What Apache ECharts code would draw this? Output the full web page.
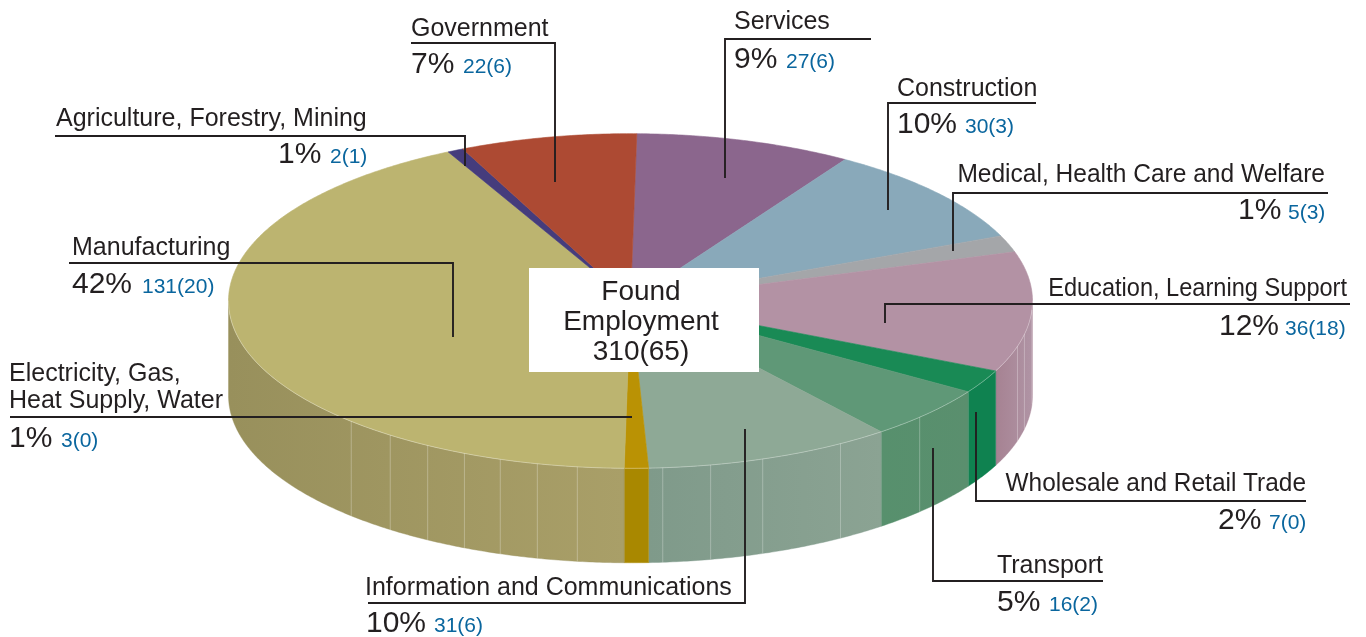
<!DOCTYPE html>
<html lang="en">
<head>
    <meta charset="UTF-8">
    <title>Found Employment</title>
    <script src="https://cdn.jsdelivr.net/npm/echarts@6/dist/echarts.min.js"></script>
    <style>
        html, body { margin: 0; padding: 0; background: #fff; }
        #chart { width: 1366px; height: 637px; }
    </style>
</head>
<body>
<div id="chart"></div>
<script>
    // data, clockwise from 12 o'clock
    const sectorNames = [
        ['Services'], ['Construction'], ['Medical, Health Care and Welfare'],
        ['Education, Learning Support'], ['Wholesale and Retail Trade'], ['Transport'],
        ['Information and Communications'], ['Electricity, Gas,', 'Heat Supply, Water'],
        ['Manufacturing'], ['Agriculture, Forestry, Mining'], ['Government']
    ];
    const sectorCounts = [27, 30, 5, 36, 7, 16, 31, 3, 131, 2, 22];
    const sectorBrackets = [6, 3, 3, 18, 0, 2, 6, 0, 20, 1, 6];
    const sectorPercents = [9, 10, 1, 12, 2, 5, 10, 1, 42, 1, 7];
    const centerLines = ['Found', 'Employment', '310(65)'];

    // colours
    const topColors = ['#8B668D', '#89A9BA', '#A4A6A9', '#B392A4', '#198A55', '#5F9877',
        '#8EA996', '#BA9204', '#BCB470', '#453C7C', '#AD4A33'];
    const wallColors = [null, null, null, ['#A68292', '#B094A5'], ['#0F8250', '#0F8250'],
        ['#57906D', '#5A8F6E'], ['#7F9A8A', '#8BA393'], ['#A98800', '#A98800'],
        ['#98905C', '#A99F68'], null, null];
    const inkColor = '#231F20';
    const blueColor = '#0A669E';
    const fontName = '"Liberation Sans", Arial, sans-serif';

    // pie geometry
    const cx = 630.5, cy = 301, rx = 402, ry = 167.3, depth = 94.5;
    const startAngle = 0.9;
    const facetAngles = [93, 101.5, 105.7, 134, 148.5, 160.8, 168.5, 175.4,
        187.6, 193.4, 198.9, 204.4, 210.3, 216.7, 224];

    // label layout: name x / baseline, percent and bracket row
    const labelLayout = [
        { x: 734, y: 29, align: 'left', rowY: 68, pctX: 734, countX: 786 },
        { x: 897, y: 96, align: 'left', rowY: 133, pctX: 897, countX: 965 },
        { x: 1325, y: 182, align: 'right', squeeze: 0.981, rowY: 219, pctX: 1238, countX: 1288 },
        { x: 1347, y: 296, align: 'right', squeeze: 0.943, rowY: 335, pctX: 1219, countX: 1285 },
        { x: 1306, y: 491, align: 'right', squeeze: 0.977, rowY: 529, pctX: 1218, countX: 1269 },
        { x: 1103, y: 573, align: 'right', rowY: 611, pctX: 997, countX: 1049 },
        { x: 365, y: 595, align: 'left', rowY: 632, pctX: 366, countX: 434 },
        { x: 9, y: 381, align: 'left', rowY: 447, pctX: 9, countX: 61 },
        { x: 72, y: 255, align: 'left', rowY: 293, pctX: 72, countX: 142 },
        { x: 56, y: 126, align: 'left', rowY: 163, pctX: 278, countX: 330 },
        { x: 411, y: 36, align: 'left', rowY: 73, pctX: 411, countX: 463 }
    ];
    const leaderLines = [
        [[871, 39], [725, 39], [725, 178]],
        [[1036, 103], [888, 103], [888, 210]],
        [[1328, 193], [953, 193], [953, 251]],
        [[1350, 304], [885, 304], [885, 323]],
        [[1306, 501], [976, 501], [976, 412]],
        [[1103, 581], [933, 581], [933, 448]],
        [[368, 603], [745, 603], [745, 429]],
        [[10, 417], [632, 417]],
        [[69, 263], [453, 263], [453, 337]],
        [[55, 136], [465, 136], [465, 166]],
        [[411, 43], [555, 43], [555, 182]]
    ];

    const total = sectorCounts.reduce((a, b) => a + b, 0);
    const startAngles = [];
    sectorCounts.reduce((sum, v, i) => { startAngles[i] = startAngle + sum / total * 360; return sum + v; }, 0);

    function rim(deg, dy) {
        const t = deg * Math.PI / 180;
        return [cx + rx * Math.sin(t), cy - ry * Math.cos(t) + (dy || 0)];
    }

    function arc(from, to, dy) {
        const pts = [];
        const n = Math.max(2, Math.ceil(Math.abs(to - from) * 2));
        for (let k = 0; k <= n; k++) pts.push(rim(from + (to - from) * k / n, dy));
        return pts;
    }

    function renderSlice(params, api) {
        const i = params.dataIndex;
        const a0 = startAngles[i];
        const a1 = a0 + api.value(0) / total * 360;
        const children = [{
            type: 'polygon',
            shape: { points: [[cx, cy]].concat(arc(a0, a1)) },
            style: { fill: topColors[i], stroke: topColors[i], lineWidth: 0.6 }
        }];
        // only the part of the outer wall facing the viewer
        const w0 = Math.max(a0, 90), w1 = Math.min(a1, 270);
        if (w1 > w0 && wallColors[i]) {
            const pts = arc(w0, w1).concat(arc(w1, w0, depth));
            children.unshift({
                type: 'polygon',
                shape: { points: pts },
                style: {
                    fill: new echarts.graphic.LinearGradient(0, 0, 1, 0, [
                        { offset: 0, color: wallColors[i][0] },
                        { offset: 1, color: wallColors[i][1] }
                    ]),
                    stroke: wallColors[i][0],
                    lineWidth: 0.4
                }
            });
            children.push({
                type: 'polyline',
                shape: { points: arc(w0, w1) },
                style: { fill: 'none', stroke: 'rgba(255,255,255,0.4)', lineWidth: 0.8 }
            });
        }
        return { type: 'group', children: children };
    }

    function renderFacet(params, api) {
        const top = rim(api.value(0));
        const bottom = rim(api.value(0), depth);
        return {
            type: 'line',
            shape: { x1: top[0], y1: top[1], x2: bottom[0], y2: bottom[1] },
            style: { stroke: 'rgba(255,255,255,0.28)', lineWidth: 1 }
        };
    }

    // baseline is the text's baseline; zrender places text by its middle
    function textAt(text, x, baseline, size, color, align, squeeze) {
        return {
            type: 'text',
            z: 100,
            x: x,
            y: baseline - size * 0.27,
            scaleX: squeeze || 1,
            style: {
                text: text,
                x: 0,
                y: 0,
                fill: color,
                font: size + 'px ' + fontName,
                align: align || 'left',
                verticalAlign: 'middle'
            }
        };
    }

    const graphics = [{
        type: 'rect',
        z: 50,
        shape: { x: 529, y: 268, width: 230, height: 104 },
        style: { fill: '#fff' }
    }];
    centerLines.forEach((line, i) => {
        graphics.push(textAt(line, 641, 300 + i * 30, 28, inkColor, 'center'));
    });
    leaderLines.forEach(points => {
        graphics.push({
            type: 'polyline',
            z: 90,
            shape: { points: points },
            style: { fill: 'none', stroke: inkColor, lineWidth: 1.9 }
        });
    });
    sectorNames.forEach((lines, i) => {
        const at = labelLayout[i];
        lines.forEach((line, k) => {
            graphics.push(textAt(line, at.x, at.y + k * 27, 25, inkColor, at.align, at.squeeze));
        });
        graphics.push(textAt(sectorPercents[i] + '%', at.pctX, at.rowY, 30, inkColor));
        graphics.push(textAt(sectorCounts[i] + '(' + sectorBrackets[i] + ')', at.countX, at.rowY, 21, blueColor));
    });

    const chart = echarts.init(document.getElementById('chart'));
    chart.setOption({
        animation: false,
        series: [
            {
                type: 'custom',
                coordinateSystem: 'none',
                silent: true,
                z: 2,
                renderItem: renderSlice,
                data: sectorCounts
            },
            {
                type: 'custom',
                coordinateSystem: 'none',
                silent: true,
                z: 3,
                renderItem: renderFacet,
                data: facetAngles
            }
        ],
        graphic: graphics
    });
</script>
</body>
</html>
